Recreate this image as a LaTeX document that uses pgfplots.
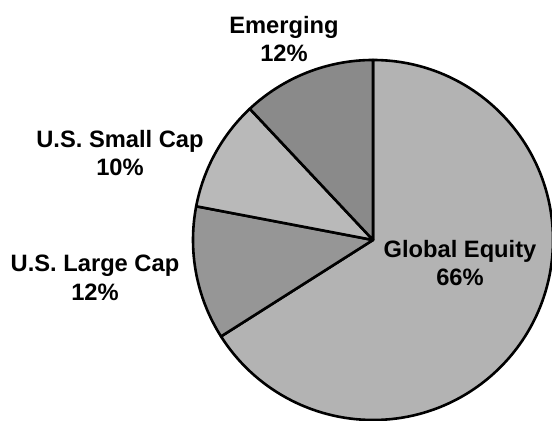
\documentclass[border=0pt]{standalone}
\usepackage{pgfplots}
\pgfplotsset{compat=1.18}
\usepackage{fontspec}
\setmainfont{Liberation Sans}
\definecolor{geq}{RGB}{179,179,179}
\definecolor{lcap}{RGB}{150,150,150}
\definecolor{scap}{RGB}{185,185,185}
\definecolor{emer}{RGB}{138,138,138}
\begin{document}
\begin{tikzpicture}
\useasboundingbox (0,0) rectangle (552bp,421bp);
\begin{axis}[
  width=552bp, height=421bp, scale only axis,
  xmin=0, xmax=552, ymin=0, ymax=421,
  hide axis, clip=false,
]
% shares in percent: Global Equity 66, U.S. Large Cap 12, U.S. Small Cap 10, Emerging 12
\filldraw[fill=geq, draw=black, line width=2.6bp, line join=round]
  (axis cs:373,181) -- ++(90:180bp) arc[start angle=90, end angle={90-66*3.6}, radius=180bp] -- cycle;
\filldraw[fill=lcap, draw=black, line width=2.6bp, line join=round]
  (axis cs:373,181) -- ++({90-66*3.6}:180bp) arc[start angle={90-66*3.6}, end angle={90-78*3.6}, radius=180bp] -- cycle;
\filldraw[fill=scap, draw=black, line width=2.6bp, line join=round]
  (axis cs:373,181) -- ++({90-78*3.6}:180bp) arc[start angle={90-78*3.6}, end angle={90-88*3.6}, radius=180bp] -- cycle;
\filldraw[fill=emer, draw=black, line width=2.6bp, line join=round]
  (axis cs:373,181) -- ++({90-88*3.6}:180bp) arc[start angle={90-88*3.6}, end angle={90-100*3.6}, radius=180bp] -- cycle;
\tikzset{lbl/.style={align=center, font=\fontsize{23.7bp}{28.5bp}\selectfont\bfseries, inner sep=0pt}}
\node[lbl] at (axis cs:284,382) {Emerging\\12\%};
\node[lbl] at (axis cs:120,268) {U.S. Small Cap\\10\%};
\node[lbl] at (axis cs:95,143) {U.S. Large Cap\\12\%};
\node[lbl] at (axis cs:460,158) {Global Equity\\66\%};
\end{axis}
\end{tikzpicture}
\end{document}
